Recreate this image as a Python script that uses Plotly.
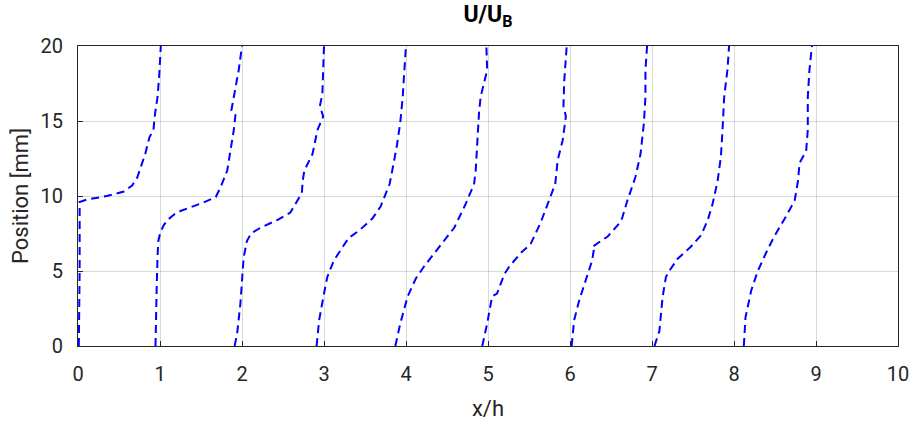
import plotly.graph_objects as go

stations = [0, 1, 2, 3, 4, 5, 6, 7, 8]

y0 = [0, 2, 5, 8, 9.6, 9.75, 10.0, 10.3, 10.7, 11.2, 11.8, 12.8, 13.9, 14.4, 15.5, 16.6, 18, 20]
u0 = [0.01, 0.015, 0.02, 0.02, 0.02, 0.1, 0.35, 0.56, 0.66, 0.72, 0.76, 0.82, 0.87, 0.92, 0.94, 0.97, 0.99, 1.01]

y1 = [0, 2, 4, 6, 7, 7.5, 8.0, 8.4, 8.8, 9.0, 9.5, 9.93, 10.6, 11.7, 13, 14.4, 15.4, 15.7, 16.6, 18.4, 20]
u1 = [-0.055, -0.05, -0.04, -0.03, -0.02, 0.0, 0.04, 0.09, 0.18, 0.25, 0.5, 0.68, 0.74, 0.82, 0.86, 0.90, 0.92, 0.87, 0.90, 0.96, 1.0]

y2 = [0, 0.8, 2.8, 5.9, 7.0, 7.5, 7.9, 8.4, 8.9, 9.7, 10.2, 11.0, 11.7, 12.8, 14.4, 15.3, 16.0, 16.8, 18.5, 20]
u2 = [-0.09, -0.06, -0.02, 0.02, 0.06, 0.11, 0.23, 0.43, 0.59, 0.67, 0.73, 0.74, 0.76, 0.86, 0.92, 0.99, 0.95, 0.98, 0.99, 1.0]

y3 = [0, 1.7, 3.5, 4.6, 5.7, 7.2, 7.7, 8.5, 9.3, 10.8, 12.2, 13.4, 14.9, 16.6, 18.4, 20]
u3 = [-0.09, -0.06, 0.0, 0.04, 0.12, 0.30, 0.43, 0.59, 0.69, 0.80, 0.85, 0.89, 0.93, 0.96, 0.98, 1.0]

y4 = [0, 1.5, 3.3, 4.5, 5.3, 6.4, 7.9, 9.5, 10.8, 11.7, 13.7, 15.5, 16.6, 17.3, 18.4, 20]
u4 = [-0.13, -0.07, 0.02, 0.12, 0.22, 0.38, 0.59, 0.73, 0.83, 0.85, 0.87, 0.89, 0.91, 0.94, 0.99, 0.98]

y5 = [0, 1.5, 3.3, 3.5, 4.8, 5.3, 6.2, 6.8, 8.2, 9.3, 10.8, 12.4, 13.7, 15.3, 16.0, 17.7, 20]
u5 = [-0.07, -0.01, 0.05, 0.11, 0.20, 0.26, 0.40, 0.52, 0.64, 0.72, 0.82, 0.85, 0.91, 0.95, 0.92, 0.93, 0.96]

y6 = [0, 1.7, 3.0, 4.4, 5.7, 6.4, 6.6, 6.9, 7.3, 8.3, 8.6, 9.7, 11.3, 12.8, 14.8, 16.6, 18.4, 20]
u6 = [0.02, 0.05, 0.11, 0.19, 0.27, 0.29, 0.27, 0.35, 0.46, 0.62, 0.64, 0.70, 0.80, 0.86, 0.90, 0.92, 0.92, 0.94]

y7 = [0, 1.0, 3.3, 4.6, 5.0, 5.8, 6.6, 7.4, 8.4, 9.5, 11.0, 12.6, 14.4, 16.6, 18.4, 20]
u7 = [0.03, 0.09, 0.13, 0.17, 0.21, 0.31, 0.47, 0.60, 0.68, 0.74, 0.80, 0.84, 0.86, 0.88, 0.92, 0.94]

y8 = [0, 1.9, 3.7, 5.0, 6.2, 7.3, 8.6, 9.7, 11.0, 12.2, 13.0, 14.4, 16.6, 18.4, 20]
u8 = [0.12, 0.14, 0.21, 0.29, 0.39, 0.49, 0.63, 0.74, 0.78, 0.80, 0.88, 0.90, 0.90, 0.92, 0.95]

profiles_y = [y0, y1, y2, y3, y4, y5, y6, y7, y8]
profiles_u = [u0, u1, u2, u3, u4, u5, u6, u7, u8]

x_ticks = [0, 1, 2, 3, 4, 5, 6, 7, 8, 9, 10]
y_ticks = [0, 5, 10, 15, 20]

FONT = "Roboto, Liberation Sans, Arial"

fig = go.Figure()
for s, ys, us in zip(stations, profiles_y, profiles_u):
    fig.add_trace(go.Scatter(
        x=[s + u for u in us], y=ys, mode="lines",
        line=dict(color="rgb(0,0,255)", width=2, dash="8px,5px"),
        showlegend=False, hoverinfo="skip",
    ))

axis_common = dict(
    showline=True, linecolor="#262626", linewidth=1, mirror=True,
    ticks="inside", ticklen=5, tickcolor="#262626",
    showgrid=True, gridcolor="rgba(0,0,0,0.15)", gridwidth=1,
    zeroline=False,
    tickfont=dict(family=FONT, size=20, color="#262626"),
)

fig.update_layout(
    width=912, height=423,
    margin=dict(l=78, r=14, t=46, b=77),
    paper_bgcolor="white", plot_bgcolor="white",
    title=dict(
        text="<b>U/U<sub>B</sub></b>",
        x=0.5, xanchor="center", xref="paper", y=0.985, yref="container", yanchor="top",
        font=dict(family=FONT, size=23, color="#000000"),
    ),
    xaxis=dict(
        range=[0, 10], tickvals=x_ticks, ticklabelstandoff=10, automargin=False,
        title=dict(text="x/h", font=dict(family=FONT, size=22, color="#262626")),
        **axis_common,
    ),
    yaxis=dict(
        range=[0, 20], tickvals=y_ticks, ticklabelstandoff=10, automargin="left",
        title=dict(text="Position [mm]", font=dict(family=FONT, size=22, color="#262626"), standoff=5),
        **axis_common,
    ),
)

fig.write_html(
    "out.html",
    config={"displayModeBar": False},
    post_script="document.body.style.margin='0';document.body.style.padding='0';",
)
